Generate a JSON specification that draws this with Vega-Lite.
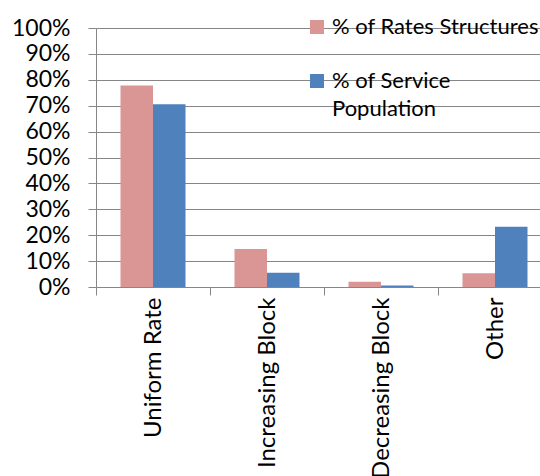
{
  "$schema": "https://vega.github.io/schema/vega-lite/v6.json",
  "autosize": {"type": "none"},
  "padding": {"left": 96, "top": 28, "right": 0, "bottom": 189},
  "width": 444,
  "height": 259,
  "background": "white",
  "config": {
    "font": "Lato",
    "view": {"stroke": null},
    "style": {"guide-label": {"lineHeight": 28}},
    "axis": {
      "labelFont": "Lato",
      "labelFontSize": 23,
      "labelColor": "#000000",
      "domainColor": "#868686",
      "tickColor": "#868686",
      "gridColor": "#868686",
      "tickSize": 8,
      "title": null
    }
  },
  "data": {
    "values": [
      {"category": "Uniform Rate", "series": "% of Rates Structures", "value": 0.778},
      {"category": "Uniform Rate", "series": "% of Service Population", "value": 0.706},
      {"category": "Increasing Block", "series": "% of Rates Structures", "value": 0.147},
      {"category": "Increasing Block", "series": "% of Service Population", "value": 0.055},
      {"category": "Decreasing Block", "series": "% of Rates Structures", "value": 0.02},
      {"category": "Decreasing Block", "series": "% of Service Population", "value": 0.006},
      {"category": "Other", "series": "% of Rates Structures", "value": 0.053},
      {"category": "Other", "series": "% of Service Population", "value": 0.233}
    ]
  },
  "mark": {"type": "bar"},
  "encoding": {
    "x": {
      "field": "category",
      "type": "nominal",
      "sort": ["Uniform Rate", "Increasing Block", "Decreasing Block", "Other"],
      "scale": {"range": [0, 456], "paddingInner": 0, "paddingOuter": 0},
      "axis": {"labelAngle": -90, "labelFontSize": 24, "labelLimit": 400, "tickBand": "extent", "labelPadding": 2, "grid": false, "domain": false}
    },
    "xOffset": {
      "field": "series",
      "type": "nominal",
      "scale": {"paddingInner": 0, "paddingOuter": 0.754}
    },
    "y": {
      "field": "value",
      "type": "quantitative",
      "scale": {"domain": [0, 1], "nice": false},
      "axis": {"values": [0, 0.1, 0.2, 0.3, 0.4, 0.5, 0.6, 0.7, 0.8, 0.9, 1], "format": ".0%", "grid": true, "labelPadding": 18}
    },
    "color": {
      "field": "series",
      "type": "nominal",
      "scale": {"domain": ["% of Rates Structures", "% of Service Population"], "range": ["#D99694", "#4F81BD"]},
      "legend": {
        "title": null,
        "orient": "none",
        "legendX": 210,
        "legendY": -12,
        "padding": 0,
        "symbolType": "square",
        "symbolSize": 196,
        "symbolStrokeWidth": 0,
        "labelFont": "Lato",
        "labelFontSize": 22,
        "labelColor": "#000000",
        "labelOffset": 4,
        "labelLimit": 300,
        "rowPadding": 32,
        "labelExpr": "datum.label == '% of Service Population' ? ['% of Service', 'Population'] : datum.label"
      }
    }
  }
}
